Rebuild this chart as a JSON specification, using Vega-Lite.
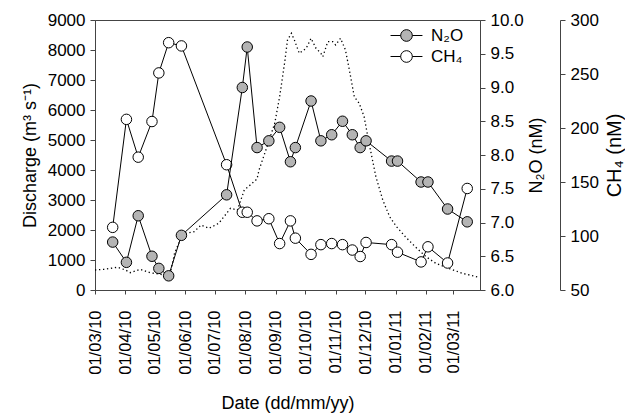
{
  "$schema": "https://vega.github.io/schema/vega-lite/v6.json",
  "width": 385,
  "height": 270,
  "padding": {"left": 21, "top": 11, "right": 0, "bottom": 0},
  "datasets": {
    "discharge": [
      {"date": "2010-03-01", "q": 667},
      {"date": "2010-03-10", "q": 690},
      {"date": "2010-03-24", "q": 757},
      {"date": "2010-04-01", "q": 667},
      {"date": "2010-04-06", "q": 577},
      {"date": "2010-04-16", "q": 690},
      {"date": "2010-04-26", "q": 577},
      {"date": "2010-05-07", "q": 523},
      {"date": "2010-05-16", "q": 443},
      {"date": "2010-05-21", "q": 1223},
      {"date": "2010-05-26", "q": 1610},
      {"date": "2010-06-02", "q": 1890},
      {"date": "2010-06-10", "q": 1943},
      {"date": "2010-06-17", "q": 2167},
      {"date": "2010-06-25", "q": 2057},
      {"date": "2010-07-05", "q": 2223},
      {"date": "2010-07-17", "q": 2723},
      {"date": "2010-07-24", "q": 2667},
      {"date": "2010-07-31", "q": 3333},
      {"date": "2010-08-06", "q": 3500},
      {"date": "2010-08-13", "q": 3700},
      {"date": "2010-08-15", "q": 4000},
      {"date": "2010-08-22", "q": 4667},
      {"date": "2010-08-31", "q": 5557},
      {"date": "2010-09-05", "q": 6443},
      {"date": "2010-09-10", "q": 7557},
      {"date": "2010-09-13", "q": 8333},
      {"date": "2010-09-17", "q": 8557},
      {"date": "2010-09-20", "q": 8333},
      {"date": "2010-09-25", "q": 7890},
      {"date": "2010-10-02", "q": 8057},
      {"date": "2010-10-07", "q": 8390},
      {"date": "2010-10-12", "q": 8057},
      {"date": "2010-10-17", "q": 7890},
      {"date": "2010-10-19", "q": 7777},
      {"date": "2010-10-24", "q": 8277},
      {"date": "2010-10-29", "q": 8277},
      {"date": "2010-11-01", "q": 8167},
      {"date": "2010-11-06", "q": 8390},
      {"date": "2010-11-11", "q": 8000},
      {"date": "2010-11-15", "q": 7333},
      {"date": "2010-11-20", "q": 6443},
      {"date": "2010-11-25", "q": 6223},
      {"date": "2010-11-30", "q": 5777},
      {"date": "2010-12-05", "q": 4900},
      {"date": "2010-12-12", "q": 3777},
      {"date": "2010-12-19", "q": 3000},
      {"date": "2010-12-26", "q": 2443},
      {"date": "2011-01-02", "q": 2110},
      {"date": "2011-01-11", "q": 1777},
      {"date": "2011-01-21", "q": 1443},
      {"date": "2011-02-01", "q": 1110},
      {"date": "2011-02-11", "q": 890},
      {"date": "2011-02-24", "q": 723},
      {"date": "2011-03-10", "q": 557},
      {"date": "2011-03-27", "q": 423}
    ],
    "gas": [
      {"date": "2010-03-19", "n2o": 6.71, "ch4": 108},
      {"date": "2010-04-02", "n2o": 6.41, "ch4": 208},
      {"date": "2010-04-14", "n2o": 7.10, "ch4": 173},
      {"date": "2010-04-28", "n2o": 6.50, "ch4": 206},
      {"date": "2010-05-05", "n2o": 6.32, "ch4": 251},
      {"date": "2010-05-15", "n2o": 6.21, "ch4": 279},
      {"date": "2010-05-28", "n2o": 6.81, "ch4": 276},
      {"date": "2010-07-13", "n2o": 7.41, "ch4": 166},
      {"date": "2010-07-29", "n2o": 9.00, "ch4": 122},
      {"date": "2010-08-03", "n2o": 9.60, "ch4": 122},
      {"date": "2010-08-13", "n2o": 8.11, "ch4": 114},
      {"date": "2010-08-25", "n2o": 8.21, "ch4": 116},
      {"date": "2010-09-05", "n2o": 8.41, "ch4": 93},
      {"date": "2010-09-16", "n2o": 7.90, "ch4": 114},
      {"date": "2010-09-21", "n2o": 8.11, "ch4": 98},
      {"date": "2010-10-07", "n2o": 8.80, "ch4": 83},
      {"date": "2010-10-17", "n2o": 8.21, "ch4": 92},
      {"date": "2010-10-28", "n2o": 8.30, "ch4": 93},
      {"date": "2010-11-08", "n2o": 8.50, "ch4": 92},
      {"date": "2010-11-18", "n2o": 8.30, "ch4": 87},
      {"date": "2010-11-26", "n2o": 8.11, "ch4": 81},
      {"date": "2010-12-02", "n2o": 8.21, "ch4": 94},
      {"date": "2010-12-28", "n2o": 7.91, "ch4": 92},
      {"date": "2011-01-03", "n2o": 7.91, "ch4": 85},
      {"date": "2011-01-27", "n2o": 7.60, "ch4": 76},
      {"date": "2011-02-03", "n2o": 7.60, "ch4": 90},
      {"date": "2011-02-23", "n2o": 7.20, "ch4": 75},
      {"date": "2011-03-15", "n2o": 7.01, "ch4": 144}
    ]
  },
  "resolve": {"scale": {"y": "independent"}},
  "layer": [
    {
      "data": {"name": "discharge"},
      "mark": {"type": "line", "color": "black", "strokeDash": [1.3, 2.7], "strokeWidth": 1.3},
      "encoding": {
        "x": {
          "field": "date", "type": "temporal",
          "scale": {"type": "utc", "domain": ["2010-03-01", "2011-03-28"]},
          "axis": {
            "title": "Date (dd/mm/yy)",
            "format": "%d/%m/%y",
            "tickCount": {"interval": "month", "step": 1},
            "labelAngle": -90,
            "labelPadding": 16,
            "labelOverlap": false,
            "labelBound": false,
            "labelFontSize": 16.5,
            "tickSize": 4,
            "titlePadding": 20
          }
        },
        "y": {
          "field": "q", "type": "quantitative",
          "scale": {"domain": [0, 9000], "nice": false},
          "axis": {
            "orient": "left",
            "title": "Discharge (m³ s⁻¹)",
            "values": [0, 1000, 2000, 3000, 4000, 5000, 6000, 7000, 8000, 9000],
            "format": "d",
            "titlePadding": 8
          }
        }
      }
    },
    {
      "data": {"name": "gas"},
      "encoding": {
        "x": {
          "field": "date", "type": "temporal",
          "scale": {"type": "utc", "domain": ["2010-03-01", "2011-03-28"]}
        },
        "y": {
          "field": "ch4", "type": "quantitative",
          "scale": {"domain": [50, 300], "nice": false},
          "axis": {
            "orient": "right",
            "offset": 80,
            "title": "CH₄ (nM)",
            "titleFontSize": 20,
            "values": [50, 100, 150, 200, 250, 300],
            "titleAngle": 270,
            "titleBaseline": "top",
            "titlePadding": 6
          }
        }
      },
      "layer": [
        {"mark": {"type": "line", "color": "black", "strokeWidth": 1}},
        {
          "mark": {"type": "point", "filled": true, "size": 110, "stroke": "black", "strokeWidth": 1, "opacity": 1},
          "encoding": {
            "fill": {"datum": "CH₄", "type": "nominal", "scale": {"domain": ["N₂O", "CH₄"], "range": ["#b4b4b4", "#ffffff"]}}
          }
        }
      ]
    },
    {
      "data": {"name": "gas"},
      "encoding": {
        "x": {
          "field": "date", "type": "temporal",
          "scale": {"type": "utc", "domain": ["2010-03-01", "2011-03-28"]}
        },
        "y": {
          "field": "n2o", "type": "quantitative",
          "scale": {"domain": [6, 10], "nice": false},
          "axis": {
            "orient": "right",
            "title": "N₂O (nM)",
            "values": [6, 6.5, 7, 7.5, 8, 8.5, 9, 9.5, 10],
            "format": ".1f",
            "titleAngle": 270,
            "titleBaseline": "top",
            "titlePadding": 4
          }
        }
      },
      "layer": [
        {"mark": {"type": "line", "color": "black", "strokeWidth": 1}},
        {
          "mark": {"type": "point", "filled": true, "size": 110, "stroke": "black", "strokeWidth": 1, "opacity": 1},
          "encoding": {
            "fill": {"datum": "N₂O", "type": "nominal", "scale": {"domain": ["N₂O", "CH₄"], "range": ["#b4b4b4", "#ffffff"]}}
          }
        }
      ]
    }
  ],
  "config": {
    "font": "Liberation Sans",
    "view": {"stroke": "#444"},
    "axis": {
      "grid": false,
      "domainColor": "#444",
      "tickColor": "#444",
      "labelColor": "black",
      "titleColor": "black",
      "labelFontSize": 17,
      "titleFontSize": 18,
      "titleFontWeight": "normal",
      "tickSize": 5,
      "labelPadding": 5
    },
    "axisX": {"labelOverlap": false},
    "legend": {
      "orient": "none",
      "legendX": 300,
      "legendY": 4,
      "title": null,
      "padding": 0,
      "symbolType": "M-1.45,0L-0.53,0M0.53,0L1.45,0M-0.53,0A0.53,0.53,0,1,1,0.53,0A0.53,0.53,0,1,1,-0.53,0Z",
      "symbolSize": 484,
      "symbolStrokeColor": "black",
      "symbolStrokeWidth": 1,
      "labelFontSize": 17,
      "labelOffset": 13,
      "rowPadding": 1,
      "labelColor": "black"
    }
  }
}
